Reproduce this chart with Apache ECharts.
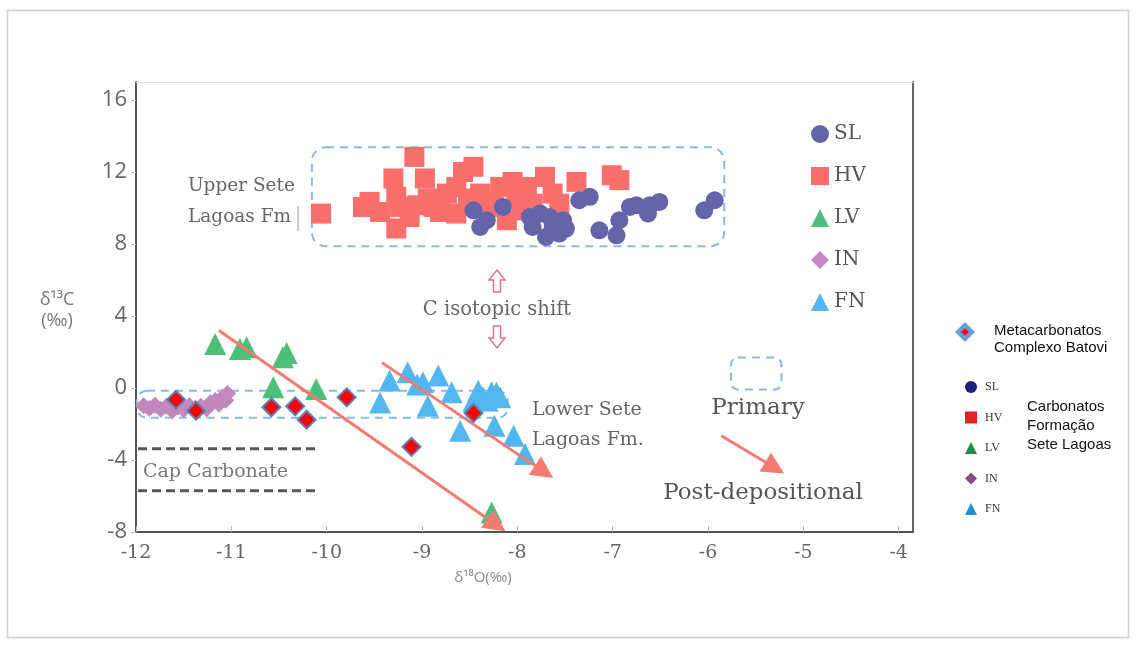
<!DOCTYPE html>
<html>
<head>
<meta charset="utf-8">
<script src="https://cdn.jsdelivr.net/npm/echarts@6/dist/echarts.min.js"></script>
<style>
  html, body { margin: 0; padding: 0; background: #fff; }
  #chart { width: 1137px; height: 648px; }
</style>
</head>
<body>
<div id="chart"></div>
<script>
// δ18O (x) and δ13C (y) values, ‰, one array per group
const slPoints = [[-8.46,9.87],[-8.39,8.95],[-8.32,9.32],[-8.15,10.06],[-7.87,9.50],[-7.84,8.95],[-7.76,9.69],
  [-7.70,8.39],[-7.66,9.50],[-7.63,8.95],[-7.56,8.58],[-7.52,9.32],[-7.49,8.86],[-7.35,10.43],[-7.24,10.62],
  [-7.14,8.76],[-6.96,8.48],[-6.93,9.32],[-6.82,10.06],[-6.75,10.15],[-6.63,9.69],[-6.61,10.15],[-6.51,10.34],
  [-6.04,9.87],[-5.93,10.43]];
const hvPoints = [[-10.06,9.69],[-9.62,10.06],[-9.55,10.34],[-9.44,9.78],[-9.30,11.64],[-9.27,10.62],[-9.27,8.86],
  [-9.23,10.06],[-9.13,9.50],[-9.08,12.84],[-9.05,10.15],[-8.97,11.64],[-8.94,10.53],[-8.88,10.06],[-8.81,9.78],
  [-8.74,10.80],[-8.64,11.17],[-8.64,9.69],[-8.57,12.00],[-8.52,10.53],[-8.46,12.29],[-8.39,10.80],[-8.32,10.06],
  [-8.25,10.43],[-8.18,11.17],[-8.11,9.32],[-8.05,11.45],[-8.01,10.62],[-7.95,9.87],[-7.90,11.17],[-7.84,10.24],
  [-7.71,11.73],[-7.63,10.80],[-7.56,10.24],[-7.38,11.45],[-7.01,11.82],[-6.93,11.55]];
const lvPoints = [[-11.17,2.45],[-10.91,2.17],[-10.84,2.26],[-10.46,1.71],[-10.42,1.95],[-10.56,0.04],
  [-10.11,-0.05],[-8.27,-6.92]];
const inPoints = [[-11.92,-0.98],[-11.86,-1.12],[-11.80,-0.96],[-11.74,-1.18],[-11.68,-1.02],[-11.62,-1.26],
  [-11.56,-1.05],[-11.50,-1.20],[-11.44,-0.98],[-11.38,-1.12],[-11.32,-1.02],[-11.26,-1.15],[-11.22,-0.82],
  [-11.17,-0.70],[-11.13,-0.90],[-11.09,-0.50],[-11.06,-0.68],[-11.04,-0.30]];
const fnPoints = [[-9.44,-0.80],[-9.34,0.41],[-9.15,0.87],[-9.05,0.20],[-8.99,0.32],[-8.94,-0.98],[-8.83,0.69],
  [-8.69,-0.24],[-8.60,-2.37],[-8.46,-0.70],[-8.41,-0.15],[-8.36,-0.51],[-8.31,-0.70],[-8.27,-0.24],[-8.24,-2.10],
  [-8.22,-0.26],[-8.18,-0.51],[-8.04,-2.65],[-7.92,-3.67]];
const batoviPoints = [[-11.58,-0.65],[-11.37,-1.26],[-10.58,-1.07],[-10.33,-1.02],[-10.21,-1.76],[-9.79,-0.52],
  [-9.11,-3.27],[-8.46,-1.39]];

// post-depositional trends (start, head) and the key arrow
const trendArrows = [[[-11.13,3.19],[-8.22,-7.61]], [[-9.42,1.41],[-7.72,-4.66]], [[-5.86,-2.65],[-5.30,-4.43]]];

// regions outlined with dashed boxes (x range, y range)
const upperField = { x: [-10.155, -5.83], y: [7.87, 13.38] };
const lowerField = { x: [-11.99, -8.10], y: [-1.65, -0.15] };
const primaryKey = { x: [-5.76, -5.23], y: [-0.09, 1.69] };
// cap carbonate band limits
const capCarbonate = { x: [-12, -10.12], y: [-3.38, -5.71] };

const groupNames = ['SL', 'HV', 'LV', 'IN', 'FN'];
const batoviName = 'Metacarbonatos Complexo Batovi';

const xRange = { min: -12, max: -3.85, step: 1 };
const yRange = { min: -8, max: 17, step: 4 };

const chart = echarts.init(document.getElementById('chart'), null, { renderer: 'canvas' });

const slab = 'DejaVu Serif';
const sans = 'Open Sans';

function scatter(name, data, symbol, size, color, extra) {
  return Object.assign({
    name, type: 'scatter', data, symbol, symbolSize: size,
    xAxisIndex: 0, yAxisIndex: 0,
    itemStyle: { color, opacity: 1 },
    emphasis: { disabled: true },
    z: 2
  }, extra || {});
}

const option = {
  animation: false,
  backgroundColor: '#fff',
  grid: { left: 136, right: 224, top: 82, bottom: 116 },
  xAxis: [{
    type: 'value', min: xRange.min, max: xRange.max, interval: xRange.step,
    axisLine: { onZero: false, lineStyle: { color: '#555', width: 2 } },
    axisTick: { inside: true, length: 6, lineStyle: { color: '#bbb' } },
    axisLabel: { color: '#666', fontFamily: slab, fontSize: 19, margin: 12, showMaxLabel: false },
    splitLine: { show: false }
  }, {
    type: 'value', position: 'top', min: xRange.min, max: xRange.max,
    axisLine: { onZero: false, lineStyle: { color: '#ddd', width: 1 } },
    axisTick: { show: false }, axisLabel: { show: false }, splitLine: { show: false }
  }],
  yAxis: [{
    type: 'value', min: yRange.min, max: yRange.max, interval: yRange.step,
    axisLine: { onZero: false, lineStyle: { color: '#555', width: 2 } },
    axisTick: { show: true, length: 5, lineStyle: { color: '#bbb' } },
    axisLabel: { color: '#666', fontFamily: sans, fontSize: 22, margin: 9, showMaxLabel: false },
    splitLine: { show: false }
  }, {
    type: 'value', position: 'right', min: yRange.min, max: yRange.max,
    axisLine: { onZero: false, lineStyle: { color: '#666', width: 2 } },
    axisTick: { show: false }, axisLabel: { show: false }, splitLine: { show: false }
  }],
  legend: [{
    data: groupNames, orient: 'vertical', left: 806, top: 119,
    itemWidth: 18, itemHeight: 18, itemGap: 22, selectedMode: false,
    textStyle: { fontFamily: slab, fontSize: 20, color: '#555' }
  }, {
    data: [
      { name: 'SL', icon: 'circle', itemStyle: { color: '#1f1f78' } },
      { name: 'HV', icon: 'rect', itemStyle: { color: '#e02424' } },
      { name: 'LV', icon: 'triangle', itemStyle: { color: '#1e8c3c' } },
      { name: 'IN', icon: 'diamond', itemStyle: { color: '#8c4a8c' } },
      { name: 'FN', icon: 'triangle', itemStyle: { color: '#1e90d8' } }
    ],
    orient: 'vertical', left: 960, top: 376,
    itemWidth: 12, itemHeight: 12, itemGap: 18.5, selectedMode: false,
    textStyle: { fontFamily: 'Liberation Serif', fontSize: 12, color: '#333', padding: [0, 0, 0, 3] }
  }],
  series: [
    scatter('HV', hvPoints, 'rect', 20, '#fa6e6b'),
    scatter('SL', slPoints, 'circle', 18, '#6464aa'),
    scatter('LV', lvPoints, 'triangle', 22, '#4cbf78'),
    scatter('FN', fnPoints, 'triangle', 22, '#53b7ef'),
    scatter('IN', inPoints, 'diamond', 17, '#c287bd'),
    {
      name: 'trends', type: 'lines', coordinateSystem: 'cartesian2d',
      xAxisIndex: 0, yAxisIndex: 0, polyline: false,
      symbol: ['none', 'triangle'], symbolSize: 22,
      lineStyle: { color: '#f47a72', width: 3, opacity: 1 },
      emphasis: { disabled: true },
      data: trendArrows.map(c => ({ coords: c })),
      z: 3
    },
    scatter(batoviName, batoviPoints, 'diamond', 18, '#ff0000', {
      itemStyle: { color: '#ff0000', borderColor: '#5b83b8', borderWidth: 2, opacity: 1 }, z: 4
    })
  ]
};

chart.setOption(option);

const toPx = p => chart.convertToPixel({ xAxisIndex: 0, yAxisIndex: 0 }, p);
function boxShape(b, r) {
  const a = toPx([b.x[0], b.y[1]]);
  const c = toPx([b.x[1], b.y[0]]);
  return { x: a[0], y: a[1], width: c[0] - a[0], height: c[1] - a[1], r };
}
const dashStyle = { fill: 'none', stroke: '#8ab9e9', lineWidth: 2, lineDash: [8, 6] };

function hollowArrow(cx, top, dir) {
  // outlined block arrow, 22 px long; dir = -1 points up, 1 points down
  const h = 22, head = 10, hw = 8, sw = 3.5;
  const tipY = dir < 0 ? top : top + h;
  const baseY = dir < 0 ? top + head : top + h - head;
  const tailY = dir < 0 ? top + h : top;
  return {
    type: 'polygon', z: 5,
    shape: { points: [[cx, tipY], [cx + hw, baseY], [cx + sw, baseY], [cx + sw, tailY],
      [cx - sw, tailY], [cx - sw, baseY], [cx - hw, baseY]] },
    style: { fill: 'none', stroke: '#e0708c', lineWidth: 1.4 }
  };
}

function label(text, x, y, size, opts) {
  return {
    type: 'text', z: 6, x, y,
    style: Object.assign({
      text, fill: '#666', font: size + 'px "' + slab + '"',
      textAlign: 'left', textVerticalAlign: 'middle'
    }, opts || {})
  };
}
const sansFont = size => size + 'px "' + sans + '"';
const keyFont = '15px "Liberation Sans"';

const capA = toPx([capCarbonate.x[0], capCarbonate.y[0]]);
const capB = toPx([capCarbonate.x[1], capCarbonate.y[1]]);

chart.setOption({
  graphic: [
    // outer frame of the figure
    { type: 'rect', z: 0, shape: { x: 7.5, y: 10.5, width: 1121, height: 627 },
      style: { fill: 'none', stroke: '#cfcfcf', lineWidth: 1.5 } },
    { type: 'rect', z: 1, shape: boxShape(upperField, 14), style: dashStyle },
    { type: 'rect', z: 1, shape: boxShape(lowerField, 10), style: dashStyle },
    { type: 'rect', z: 1, shape: boxShape(primaryKey, 7), style: dashStyle },
    { type: 'line', z: 1, shape: { x1: capA[0] + 2, y1: capA[1], x2: capB[0], y2: capA[1] },
      style: { stroke: '#555', lineWidth: 3, lineDash: [9, 5] } },
    { type: 'line', z: 1, shape: { x1: capA[0] + 2, y1: capB[1], x2: capB[0], y2: capB[1] },
      style: { stroke: '#555', lineWidth: 3, lineDash: [9, 5] } },
    label('Upper Sete', 188, 186, 18.5),
    label('Lagoas Fm', 188, 217, 18.5),
    { type: 'line', z: 6, shape: { x1: 298, y1: 206, x2: 298, y2: 231 }, style: { stroke: '#999', lineWidth: 1 } },
    label('C isotopic shift', 497, 310, 19.5, { textAlign: 'center' }),
    hollowArrow(497, 270, -1),
    hollowArrow(497, 326, 1),
    label('Lower Sete', 532, 410, 19),
    label('Lagoas Fm.', 532, 440, 19),
    label('Cap Carbonate', 143, 472, 19, { fill: '#777' }),
    label('Primary', 758, 408, 23, { textAlign: 'center', fill: '#555' }),
    label('Post-depositional', 763, 493, 23, { textAlign: 'center', fill: '#555' }),
    // axis titles
    label('δ¹³C', 57, 300, 18, { textAlign: 'center', font: sansFont(18), fill: '#777' }),
    label('(‰)', 57, 321, 18, { textAlign: 'center', font: sansFont(18), fill: '#777' }),
    label('δ¹⁸O(‰)', 483, 578, 15, { textAlign: 'center', font: sansFont(15), fill: '#888' }),
    // key for the Batovi metacarbonates and the Sete Lagoas group caption
    { type: 'polygon', z: 6, shape: { points: [[965, 322], [975, 332], [965, 342], [955, 332]] },
      style: { fill: '#6d9fd6' } },
    { type: 'polygon', z: 7, shape: { points: [[965, 328], [969, 332], [965, 336], [961, 332]] },
      style: { fill: '#e8141e' } },
    label('Metacarbonatos', 994, 331, 15, { font: keyFont, fill: '#111' }),
    label('Complexo Batovi', 994, 348, 15, { font: keyFont, fill: '#111' }),
    label('Carbonatos', 1027, 407, 15, { font: keyFont, fill: '#111' }),
    label('Formação', 1027, 426, 15, { font: keyFont, fill: '#111' }),
    label('Sete Lagoas', 1027, 445, 15, { font: keyFont, fill: '#111' })
  ]
});
</script>
</body>
</html>
